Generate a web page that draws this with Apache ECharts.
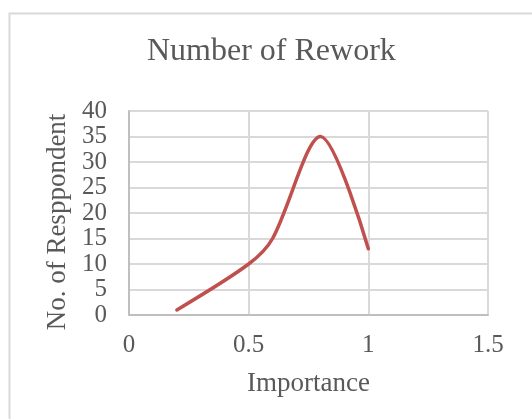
<!DOCTYPE html>
<html>
<head>
<meta charset="utf-8">
<script src="https://cdn.jsdelivr.net/npm/echarts@6/dist/echarts.min.js"></script>
<style>
  html, body { margin: 0; padding: 0; background: #ffffff; }
  #chart { width: 532px; height: 419px; }
</style>
</head>
<body>
<div id="chart"></div>
<script>
// Survey results: how many respondents gave each importance score
const importance = [0.2, 0.5, 0.6, 0.8, 1.0];
const respondents = [1, 10, 15, 35, 13];
const xTicks = { min: 0, max: 1.5, step: 0.5 };
const yTicks = { min: 0, max: 40, step: 5 };

const titleText = 'Number of Rework';
const xName = 'Importance';
const yName = 'No. of Resppondent';

const serif = '"Liberation Serif", "DejaVu Serif", serif';
const textGray = '#595959';

const points = importance.map((x, i) => [x, respondents[i]]);

const chart = echarts.init(document.getElementById('chart'), null, { renderer: 'canvas' });
chart.setOption({
  backgroundColor: '#ffffff',
  animation: false,
  graphic: [{
    type: 'rect',
    left: 7, top: 11,
    shape: { width: 600, height: 500 },
    style: { fill: 'none', stroke: '#d9d9d9', lineWidth: 2 },
    silent: true
  }],
  title: {
    text: titleText,
    left: 147,
    top: 36,
    padding: 0,
    textStyle: { fontFamily: serif, fontSize: 32, fontWeight: 'normal', color: textGray }
  },
  grid: { left: 129, top: 111, right: 44, bottom: 104, containLabel: false },
  xAxis: {
    type: 'value',
    min: xTicks.min, max: xTicks.max, interval: xTicks.step,
    name: xName,
    nameLocation: 'middle',
    nameGap: 55,
    nameTextStyle: { fontFamily: serif, fontSize: 27, color: textGray },
    axisLine: { show: true, onZero: false, lineStyle: { color: '#bfbfbf', width: 2 } },
    axisTick: { show: false },
    axisLabel: { margin: 18, fontFamily: serif, fontSize: 25, color: textGray },
    splitLine: { show: true, lineStyle: { color: '#d9d9d9', width: 2 } }
  },
  yAxis: {
    type: 'value',
    min: yTicks.min, max: yTicks.max, interval: yTicks.step,
    name: yName,
    nameLocation: 'middle',
    nameGap: 50,
    nameTextStyle: { fontFamily: serif, fontSize: 27, color: textGray, padding: [0, 18, 0, 0] },
    axisLine: { show: true, lineStyle: { color: '#bfbfbf', width: 2 } },
    axisTick: { show: false },
    axisLabel: { margin: 22, fontFamily: serif, fontSize: 25, color: textGray },
    splitLine: { show: true, lineStyle: { color: '#d9d9d9', width: 2 } }
  },
  series: [{
    type: 'line',
    data: points,
    smooth: 0.3,
    showSymbol: false,
    lineStyle: { color: '#c0504d', width: 3.5, cap: 'round', join: 'round' },
    itemStyle: { color: '#c0504d' }
  }]
});
</script>
</body>
</html>
